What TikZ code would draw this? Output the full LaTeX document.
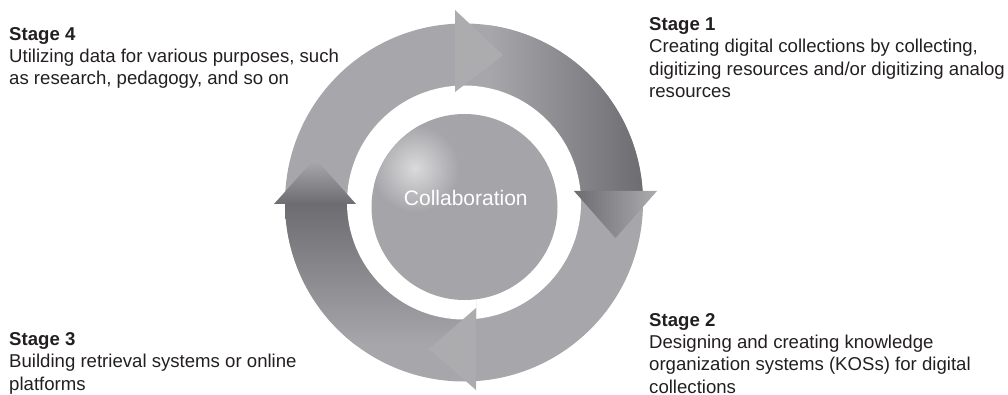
\documentclass[tikz,border=0pt]{standalone}
\usepackage{fontspec}
\setmainfont{Liberation Sans}
\definecolor{ringlight}{HTML}{A7A7AB}
\definecolor{ringdark}{HTML}{6C6C71}
\definecolor{headlight}{HTML}{ACACAF}
\definecolor{hubfill}{HTML}{A5A5A9}
\definecolor{hubglow}{HTML}{DADADC}
\definecolor{inktext}{HTML}{231F20}
\begin{document}
\begin{tikzpicture}[x=1pt,y=-1pt,
  stagetext/.style={anchor=base west, align=left, inner sep=0pt, text=inktext,
    font=\fontsize{18.6}{22.2}\selectfont},
  hubtext/.style={anchor=base, inner sep=0pt, text=white,
    font=\fontsize{21}{25}\selectfont}]
\useasboundingbox (0,0) rectangle (1008,395);
\coordinate (C) at (464,202.5);

% ring segment, stage 1 (top right)
\begin{scope}
  \clip (455,0) rectangle (700,191);
  \clip (C) circle (179);
  \fill[ringlight] (455,0) rectangle (700,191);
  \shade[left color=ringlight, right color=ringdark] (490,0) rectangle (643,191);
  \fill[white] (C) circle (117);
\end{scope}
% ring segment, stage 2 (bottom right)
\begin{scope}
  \clip (476,191) rectangle (700,400);
  \clip (C) circle (179);
  \fill[ringlight] (476,191) rectangle (700,400);
  \fill[white] (C) circle (117);
\end{scope}
% ring segment, stage 3 (bottom left)
\begin{scope}
  \clip (200,204) rectangle (476,400);
  \clip (C) circle (179);
  \fill[ringlight] (200,204) rectangle (476,400);
  \shade[top color=ringdark, bottom color=ringlight] (200,204) rectangle (476,345);
  \fill[white] (C) circle (117);
\end{scope}
% ring segment, stage 4 (top left)
\begin{scope}
  \clip (200,0) rectangle (455,204);
  \clip (C) circle (179);
  \fill[ringlight] (200,0) rectangle (455,204);
  \fill[white] (C) circle (117);
\end{scope}

% arrow heads
\fill[headlight] (455,10) -- (455,92) -- (503,55) -- cycle;
\shade[left color=ringdark, right color=headlight] (574,191) -- (657,191) -- (615.5,238) -- cycle;
\fill[headlight] (476,308) -- (476,390) -- (429,349) -- cycle;
\shade[top color=headlight, bottom color=ringdark] (274,204) -- (356,204) -- (315,158.3) -- cycle;

% central disc with soft highlight
\node[circle, fill=hubfill, minimum size=186pt, inner sep=0pt] (hub) at (464.5,207) {};
\begin{scope}
  \clip (hub.center) circle (93);
  \shade[inner color=hubglow, outer color=hubfill] (415,168.3) circle (44);
\end{scope}
\node[hubtext] (collab) at (465.8,206) {Collaboration};

% stage descriptions (anchored at the baseline of the last line)
\node[stagetext] (s4) at (9,85) {\textbf{Stage 4}\\Utilizing data for various purposes, such\\as research, pedagogy, and so on};
\node[stagetext] (s1) at (649,97.3) {\textbf{Stage 1}\\Creating digital collections by collecting,\\digitizing resources and/or digitizing analog\\resources};
\node[stagetext] (s3) at (9,390) {\textbf{Stage 3}\\Building retrieval systems or online\\platforms};
\node[stagetext] (s2) at (649,393) {\textbf{Stage 2}\\Designing and creating knowledge\\organization systems (KOSs) for digital\\collections};
\end{tikzpicture}
\end{document}
